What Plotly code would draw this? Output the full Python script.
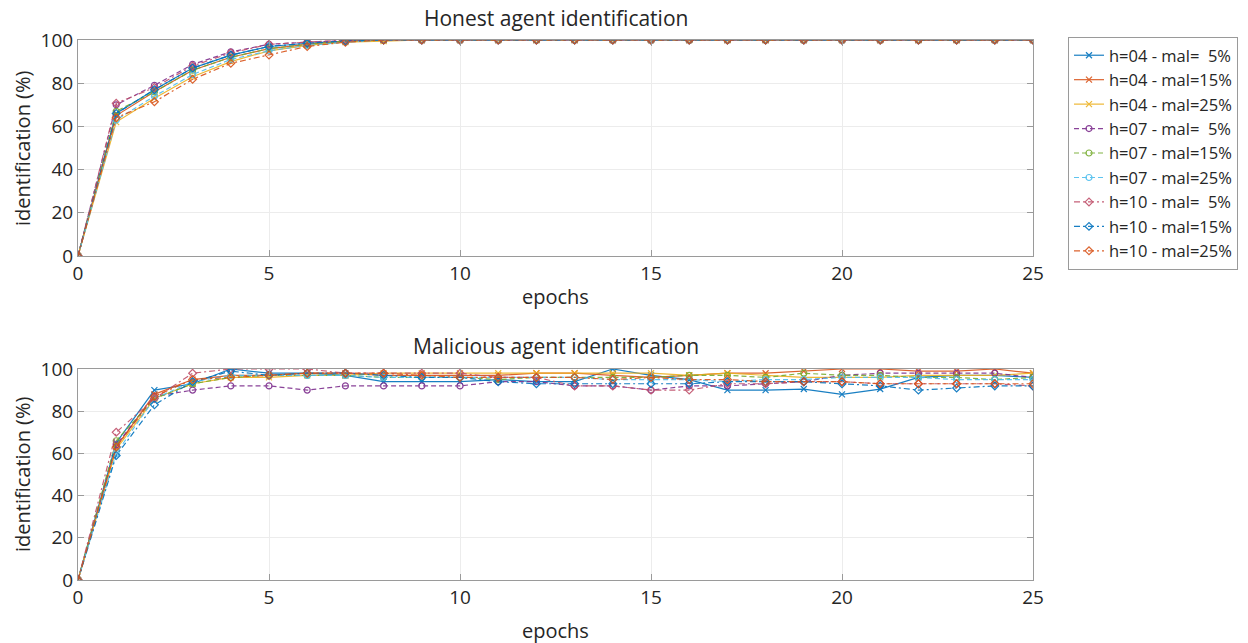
import plotly.graph_objects as go

epochs = list(range(26))

labels = [
    "h=04 - mal=  5%", "h=04 - mal=15%", "h=04 - mal=25%",
    "h=07 - mal=  5%", "h=07 - mal=15%", "h=07 - mal=25%",
    "h=10 - mal=  5%", "h=10 - mal=15%", "h=10 - mal=25%",
]

# Honest agent identification (%) per epoch
honest_h04_m05 = [0, 66, 77, 87, 93, 97, 98.5, 99.5, 100, 100, 100, 100, 100, 100, 100, 100, 100, 100, 100, 100, 100, 100, 100, 100, 100, 100]
honest_h04_m15 = [0, 65, 76, 86, 92, 96, 98, 99.5, 100, 100, 100, 100, 100, 100, 100, 100, 100, 100, 100, 100, 100, 100, 100, 100, 100, 100]
honest_h04_m25 = [0, 62, 73, 83, 90, 95, 97.5, 99, 99.5, 100, 100, 100, 100, 100, 100, 100, 100, 100, 100, 100, 100, 100, 100, 100, 100, 100]
honest_h07_m05 = [0, 70, 79, 88.7, 94.5, 98, 99, 99.7, 100, 100, 100, 100, 100, 100, 100, 100, 100, 100, 100, 100, 100, 100, 100, 100, 100, 100]
honest_h07_m15 = [0, 67, 76, 86, 92, 96, 98, 99.5, 100, 100, 100, 100, 100, 100, 100, 100, 100, 100, 100, 100, 100, 100, 100, 100, 100, 100]
honest_h07_m25 = [0, 63, 74, 84, 91, 95, 97.5, 99, 100, 100, 100, 100, 100, 100, 100, 100, 100, 100, 100, 100, 100, 100, 100, 100, 100, 100]
honest_h10_m05 = [0, 70.7, 78, 88, 94, 98, 99, 100, 100, 100, 100, 100, 100, 100, 100, 100, 100, 100, 100, 100, 100, 100, 100, 100, 100, 100]
honest_h10_m15 = [0, 66, 77, 87, 93, 97, 98.5, 99.5, 100, 100, 100, 100, 100, 100, 100, 100, 100, 100, 100, 100, 100, 100, 100, 100, 100, 100]
honest_h10_m25 = [0, 64, 71.4, 81.8, 89.2, 93, 97, 99, 100, 100, 100, 100, 100, 100, 100, 100, 100, 100, 100, 100, 100, 100, 100, 100, 100, 100]

# Malicious agent identification (%) per epoch
mal_h04_m05 = [0, 65, 90, 93, 100, 98, 98, 97, 94, 94, 94, 95, 94, 94, 100, 97, 95, 90, 90, 90.5, 88, 90.5, 96, 97, 97, 96]
mal_h04_m15 = [0, 63, 88, 95, 97, 97, 98, 98, 97, 97, 97, 97, 98, 98, 97, 96, 97, 98, 98, 99, 100, 100, 99, 99, 100, 98]
mal_h04_m25 = [0, 62, 86, 93, 96, 96, 97, 97, 98, 98, 98, 98, 98, 98, 98, 98, 97, 98, 97, 96, 96, 96, 97, 97, 97, 98]
mal_h07_m05 = [0, 64, 87, 90, 92, 92, 90, 92, 92, 92, 92, 94, 94, 92, 92, 90, 92, 92, 93, 94, 97, 98, 98, 98, 98, 96]
mal_h07_m15 = [0, 66, 86, 93, 96, 97, 97, 97, 96, 96, 96, 95, 96, 96, 96, 96, 97, 97, 96, 98, 97, 97, 96, 96, 95, 96]
mal_h07_m25 = [0, 60, 86, 94, 97, 97, 97, 97, 96, 96, 96, 96, 96, 96, 95, 95, 95, 94, 95, 95, 96, 96, 96, 95, 95, 95]
mal_h10_m05 = [0, 70, 86, 98, 100, 100, 100, 98, 98, 98, 98, 96, 96, 92, 92, 90, 90, 93, 93, 94, 94, 93, 93, 93, 93, 92]
mal_h10_m15 = [0, 59, 83, 94, 99, 97, 98, 98, 97, 96, 96, 94, 93, 93, 93, 93, 93, 94, 94, 94, 93, 92, 90, 91, 92, 92]
mal_h10_m25 = [0, 63, 87, 95, 96, 97, 98, 98, 98, 97, 96, 96, 96, 96, 95, 96, 95, 95, 94, 94, 94, 93, 93, 93, 93, 93]

honest = [honest_h04_m05, honest_h04_m15, honest_h04_m25,
          honest_h07_m05, honest_h07_m15, honest_h07_m25,
          honest_h10_m05, honest_h10_m15, honest_h10_m25]
malicious = [mal_h04_m05, mal_h04_m15, mal_h04_m25,
             mal_h07_m05, mal_h07_m15, mal_h07_m25,
             mal_h10_m05, mal_h10_m15, mal_h10_m25]

colors = ["#0072BD", "#D95319", "#EDB120", "#7E2F8E", "#77AC30",
          "#4DBEEE", "#C0506A", "#0072BD", "#D95319"]
symbols = ["x-thin-open"] * 3 + ["circle-open"] * 3 + ["diamond-open"] * 3
dashes = ["solid"] * 3 + ["5px,3px"] * 3 + ["6px,3px,2px,3px"] * 3

FONT = "Open Sans"
TXT = "#262626"

fig = go.Figure()
for i in range(9):
    for data, xa, ya, show in [(honest[i], "x", "y", True), (malicious[i], "x2", "y2", False)]:
        fig.add_trace(go.Scatter(
            x=epochs, y=data, xaxis=xa, yaxis=ya,
            mode="lines+markers", name=labels[i], showlegend=show,
            legendgroup=labels[i],
            line=dict(color=colors[i], width=1.2, dash=dashes[i]),
            marker=dict(symbol=symbols[i], size=6,
                        line=dict(color=colors[i], width=1.2)),
            opacity=0.9,
        ))

H = 643
xd = [78 / 1248, 1033 / 1248]
xmid = (xd[0] + xd[1]) / 2
axis_common = dict(
    showline=True, linecolor="#9a9a9a", linewidth=1, mirror="ticks",
    ticks="inside", ticklen=6, tickcolor="#9a9a9a", automargin=False,
    showgrid=True, gridcolor="#ececec", gridwidth=1, zeroline=False,
    tickfont=dict(family=FONT, size=19, color=TXT),
)
xa_common = dict(axis_common, range=[0, 25], tickvals=[0, 5, 10, 15, 20, 25], domain=xd)
ya_common = dict(axis_common, range=[0, 100], tickvals=[0, 20, 40, 60, 80, 100])


def label(text, x, y_px, size, angle=0):
    return dict(text=text, x=x, y=1 - y_px / H, xref="paper", yref="paper",
                xanchor="center", yanchor="middle", textangle=angle, showarrow=False,
                font=dict(family=FONT, size=size, color=TXT))


fig.update_layout(
    width=1248, height=H,
    margin=dict(l=0, r=0, t=0, b=0, autoexpand=False),
    paper_bgcolor="white", plot_bgcolor="white",
    font=dict(family=FONT, color=TXT),
    xaxis=dict(xa_common, anchor="y"),
    yaxis=dict(ya_common, domain=[(H - 256) / H, (H - 40) / H], anchor="x"),
    xaxis2=dict(xa_common, anchor="y2"),
    yaxis2=dict(ya_common, domain=[(H - 580) / H, (H - 369) / H], anchor="x2"),
    legend=dict(
        x=1068 / 1248, y=1 - 37 / H, xanchor="left", yanchor="top",
        bordercolor="#9a9a9a", borderwidth=1, bgcolor="white",
        font=dict(family=FONT, size=16.5, color=TXT),
        itemwidth=30, tracegroupgap=0,
    ),
    annotations=[
        label("Honest agent identification", xmid, 18, 21),
        label("Malicious agent identification", xmid, 346, 21),
        label("epochs", xmid, 296, 20),
        label("epochs", xmid, 630, 20),
        label("identification (%)", 22 / 1248, 148, 20, -90),
        label("identification (%)", 22 / 1248, 474, 20, -90),
    ],
)

fig.write_html("out.html")
